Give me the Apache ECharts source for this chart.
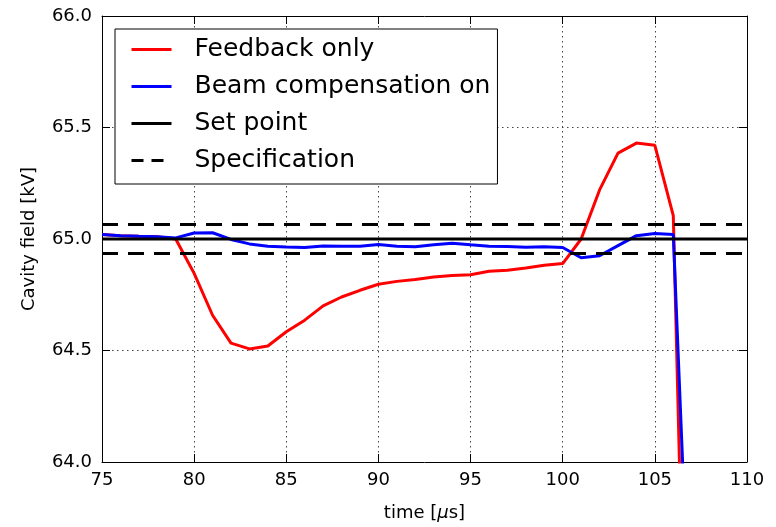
<!DOCTYPE html>
<html>
<head>
<meta charset="utf-8">
<script src="https://cdn.jsdelivr.net/npm/echarts@6/dist/echarts.min.js"></script>
<style>
  html, body { margin: 0; padding: 0; background: #fff; }
  #chart { width: 776px; height: 527px; }
</style>
</head>
<body>
<div id="chart"></div>
<script>
// time axis [us]
const time = [75, 76, 77, 78, 79, 80, 81, 82, 83, 84, 85, 86, 87, 88, 89, 90,
  91, 92, 93, 94, 95, 96, 97, 98, 99, 100, 101, 102, 103, 104, 105, 106, 107]

// cavity field [kV]
const feedbackOnly = [65.02, 65.015, 65.012, 65.01, 65.0, 64.846, 64.658, 64.533, 64.507, 64.52,
  64.584, 64.636, 64.7, 64.74, 64.77, 64.797, 64.81, 64.818, 64.83, 64.836,
  64.84, 64.855, 64.86, 64.87, 64.882, 64.89, 65.0, 65.22, 65.385, 65.43,
  65.42, 65.105, 61.8]

const beamCompensation = [65.02, 65.015, 65.012, 65.01, 65.005, 65.027, 65.028, 64.998, 64.978, 64.968,
  64.964, 64.962, 64.969, 64.967, 64.967, 64.975, 64.968, 64.965, 64.974, 64.981,
  64.974, 64.968, 64.966, 64.963, 64.965, 64.962, 64.916, 64.925, 64.97, 65.015,
  65.025, 65.02, 63.0]

const lineX = [75, 110]
const setPoint = 65.0
const specLow = 64.935
const specHigh = 65.065

const xTicks = {min: 75, max: 110, interval: 5}
const yTicks = {min: 64, max: 66, interval: 0.5}

const FONT = 'DejaVu Sans'

function pairs(xs, ys) {
  return xs.map((x, i) => [x, ys[i]])
}

const chart = echarts.init(document.getElementById('chart'))

const tickStyle = {show: true, inside: true, length: 8, lineStyle: {color: '#000', width: 1}}
const axisLineStyle = {show: true, onZero: false, lineStyle: {color: '#000', width: 1}}
const gridLine = {show: true, lineStyle: {color: '#444', width: 1, type: [1.5, 3.5]}}

chart.setOption({
  animation: false,
  backgroundColor: '#fff',
  textStyle: {fontFamily: FONT},
  grid: {left: 102, right: 29, top: 16, bottom: 65, containLabel: false},
  legend: {
    orient: 'vertical',
    left: 115,
    top: 29,
    padding: [8, 7, 11, 15],
    itemGap: 12,
    itemWidth: 40,
    itemHeight: 14,
    borderColor: '#000',
    borderWidth: 1,
    borderRadius: 0,
    backgroundColor: '#fff',
    itemStyle: {opacity: 0},
    lineStyle: {width: 3},
    textStyle: {fontFamily: FONT, fontSize: 25, color: '#000', padding: [0, 0, 0, 18], lineHeight: 24.4},
    data: [
      {name: 'Feedback only'},
      {name: 'Beam compensation on'},
      {name: 'Set point'},
      {name: 'Specification', lineStyle: {width: 3, type: [12, 8]}}
    ]
  },
  xAxis: [
    {
      type: 'value',
      min: xTicks.min, max: xTicks.max, interval: xTicks.interval,
      name: '{n|time [}{m|μ}{n|s]}',
      nameLocation: 'middle',
      nameGap: 42,
      nameTextStyle: {
        rich: {
          n: {fontFamily: FONT, fontSize: 18, color: '#000'},
          m: {fontFamily: FONT, fontSize: 18, color: '#000', fontStyle: 'italic'}
        }
      },
      axisLine: axisLineStyle,
      axisTick: tickStyle,
      axisLabel: {color: '#000', fontSize: 18, fontFamily: FONT, margin: 9},
      splitLine: gridLine
    },
    {
      type: 'value', position: 'top',
      min: xTicks.min, max: xTicks.max, interval: xTicks.interval,
      axisLine: axisLineStyle,
      axisTick: tickStyle,
      axisLabel: {show: false},
      splitLine: {show: false}
    }
  ],
  yAxis: [
    {
      type: 'value',
      min: yTicks.min, max: yTicks.max, interval: yTicks.interval,
      name: 'Cavity field [kV]',
      nameLocation: 'middle',
      nameGap: 64,
      nameTextStyle: {fontFamily: FONT, fontSize: 18, color: '#000'},
      axisLine: axisLineStyle,
      axisTick: tickStyle,
      axisLabel: {color: '#000', fontSize: 18, fontFamily: FONT, margin: 10, formatter: v => v.toFixed(1)},
      splitLine: gridLine
    },
    {
      type: 'value', position: 'right',
      min: yTicks.min, max: yTicks.max, interval: yTicks.interval,
      axisLine: axisLineStyle,
      axisTick: tickStyle,
      axisLabel: {show: false},
      splitLine: {show: false}
    }
  ],
  series: [
    {
      name: 'Feedback only', type: 'line', symbol: 'none', clip: true,
      color: '#ff0000',
      lineStyle: {color: '#ff0000', width: 3},
      data: pairs(time, feedbackOnly)
    },
    {
      name: 'Beam compensation on', type: 'line', symbol: 'none', clip: true,
      color: '#0000ff',
      lineStyle: {color: '#0000ff', width: 3},
      data: pairs(time, beamCompensation)
    },
    {
      name: 'Set point', type: 'line', symbol: 'none',
      color: '#000',
      lineStyle: {color: '#000', width: 3},
      data: pairs(lineX, [setPoint, setPoint])
    },
    {
      name: 'Specification', type: 'line', symbol: 'none',
      color: '#000',
      lineStyle: {color: '#000', width: 3, type: [16, 10]},
      data: pairs(lineX, [specHigh, specHigh])
    },
    {
      name: 'Specification', type: 'line', symbol: 'none',
      color: '#000',
      lineStyle: {color: '#000', width: 3, type: [16, 10]},
      data: pairs(lineX, [specLow, specLow])
    }
  ]
})
</script>
</body>
</html>
